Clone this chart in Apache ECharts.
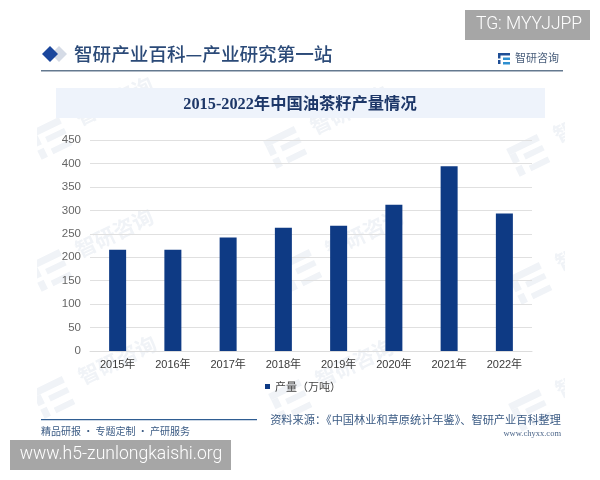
<!DOCTYPE html>
<html>
<head>
<meta charset="utf-8">
<style>html,body{margin:0;padding:0;background:#fff}#chart{width:600px;height:480px}</style>
<script src="https://cdn.jsdelivr.net/npm/echarts@6/dist/echarts.min.js"></script>
</head>
<body>
<div id="chart"></div>
<script>
const categories = ['2015年','2016年','2017年','2018年','2019年','2020年','2021年','2022年'];
const output = [216, 216, 242, 263, 267, 312, 394, 293];
const seriesName = '产量（万吨）';
const chartTitle = '2015-2022年中国油茶籽产量情况';
const headerText = '智研产业百科—产业研究第一站';
const brandText = '智研咨询';
const sloganText = '精品研报 · 专题定制 · 产研服务';
const sourceText = '资料来源：《中国林业和草原统计年鉴》、智研产业百科整理';
const siteText = 'www.chyxx.com';
const badgeTop = 'TG: MYYJJPP';
const badgeBottom = 'www.h5-zunlongkaishi.org';

const sans = '"Liberation Sans","Noto Sans CJK SC",sans-serif';
const cjk = '"Noto Sans CJK SC","Liberation Sans",sans-serif';
const serif = '"Liberation Serif","Noto Sans CJK SC",serif';
const navy = '#0e3a84';
const stampInk = '#f0f3f7';

// Faint brand stamps laid out on a loose three-by-three pattern
const stampSpots = [[50,138],[285,147],[528,155],[50,270],[300,270],[530,283],[53,397],[290,400],[530,410]];
const stamps = stampSpots.map(([x, y]) => ({
  type: 'group', x, y, rotation: 0.45, z: 0,
  children: [
    { type: 'rect', shape: { x: -17, y: -15, width: 34, height: 7 }, style: { fill: stampInk } },
    { type: 'rect', shape: { x: -17, y: -8, width: 7, height: 10 }, style: { fill: stampInk } },
    { type: 'rect', shape: { x: -4, y: -3, width: 21, height: 6 }, style: { fill: stampInk } },
    { type: 'rect', shape: { x: -17, y: 6, width: 7, height: 10 }, style: { fill: stampInk } },
    { type: 'rect', shape: { x: -4, y: 10, width: 21, height: 6 }, style: { fill: stampInk } },
    { type: 'text', x: 32, y: -16, style: { text: brandText, font: '700 21px ' + cjk, fill: stampInk } }
  ]
}));

const chart = echarts.init(document.getElementById('chart'), null, { renderer: 'canvas' });
chart.setOption({
  backgroundColor: '#fff',
  animation: false,
  grid: { left: 90, right: 68, top: 140, height: 211 },
  legend: {
    data: [seriesName], top: 381, left: 265, itemWidth: 5, itemHeight: 5, itemGap: 3,
    icon: 'rect', padding: 0,
    textStyle: { color: '#444', fontSize: 11, fontFamily: cjk }
  },
  xAxis: {
    type: 'category', data: categories,
    axisTick: { show: false },
    axisLine: { lineStyle: { color: '#dcdcdc', width: 1 } },
    axisLabel: { color: '#3a3a3a', fontSize: 11, fontFamily: sans, margin: 8, interval: 0 }
  },
  yAxis: {
    type: 'value', min: 0, max: 450, interval: 50,
    axisLine: { show: false }, axisTick: { show: false },
    axisLabel: { color: '#666', fontSize: 11.5, fontFamily: sans, margin: 9 },
    splitLine: { lineStyle: { color: '#e0e0e0', width: 1 } }
  },
  series: [{
    name: seriesName, type: 'bar', data: output, barWidth: 17,
    itemStyle: { color: navy }, z: 3
  }],
  graphic: [
    ...stamps,
    // Stamps stop at the page margins
    { type: 'rect', shape: { x: 0, y: 0, width: 37, height: 480 }, style: { fill: '#fff' }, z: 1 },
    { type: 'rect', shape: { x: 565, y: 0, width: 35, height: 480 }, style: { fill: '#fff' }, z: 1 },
    { type: 'rect', shape: { x: 0, y: 0, width: 600, height: 42 }, style: { fill: '#fff' }, z: 1 },
    { type: 'rect', shape: { x: 0, y: 437, width: 600, height: 43 }, style: { fill: '#fff' }, z: 1 },
    // Header strip
    { type: 'polygon', shape: { points: [[59,46],[67,54],[59,62],[51,54]] }, style: { fill: '#d5dbe6' }, z: 5 },
    { type: 'polygon', shape: { points: [[50,46],[58,54],[50,62],[42,54]] }, style: { fill: '#1a469c' }, z: 5 },
    { type: 'text', x: 74, y: 54, style: { text: headerText, font: '500 18.6px ' + cjk, fill: '#2b4a78', textVerticalAlign: 'middle' }, z: 5 },
    { type: 'text', x: 515, y: 58, style: { text: brandText, font: '11px ' + cjk, fill: '#4a5f7c', textVerticalAlign: 'middle' }, z: 5 },
    { type: 'rect', shape: { x: 498, y: 53, width: 12, height: 2.5 }, style: { fill: '#1f4e96' }, z: 5 },
    { type: 'rect', shape: { x: 498, y: 53, width: 2.5, height: 5.5 }, style: { fill: '#1f4e96' }, z: 5 },
    { type: 'rect', shape: { x: 503, y: 57.5, width: 7, height: 2.5 }, style: { fill: '#2f8fd0' }, z: 5 },
    { type: 'rect', shape: { x: 498, y: 60, width: 2.5, height: 4 }, style: { fill: '#1f4e96' }, z: 5 },
    { type: 'rect', shape: { x: 503, y: 62, width: 7, height: 2.5 }, style: { fill: '#2f8fd0' }, z: 5 },
    { type: 'rect', shape: { x: 41, y: 70, width: 522, height: 1.5 }, style: { fill: '#64798f' }, z: 5 },
    // Title band
    { type: 'rect', shape: { x: 56, y: 88, width: 489, height: 30 }, style: { fill: '#eef3fb' }, z: 1 },
    { type: 'text', x: 300, y: 105, style: { text: chartTitle, font: '700 16.3px ' + serif, fill: '#1d3768', textAlign: 'center', textVerticalAlign: 'middle' }, z: 5 },
    // Footer
    { type: 'rect', shape: { x: 41, y: 419, width: 216, height: 1.2 }, style: { fill: '#2f5d92' }, z: 5 },
    { type: 'text', x: 41, y: 426, style: { text: sloganText, font: '10px ' + cjk, fill: '#3b5b84' }, z: 5 },
    { type: 'text', x: 561, y: 414, style: { text: sourceText, font: '11.2px ' + cjk, fill: '#3b5b84', textAlign: 'right' }, z: 5 },
    { type: 'text', x: 561, y: 429, style: { text: siteText, font: '8.5px "Liberation Serif",serif', fill: '#4a6488', textAlign: 'right' }, z: 5 },
    // Corner badges
    { type: 'rect', shape: { x: 465, y: 10, width: 125, height: 30 }, style: { fill: '#a6a6a6' }, z: 10 },
    { type: 'text', x: 529, y: 25, style: { text: badgeTop, font: '300 17.5px Roboto,sans-serif', fill: '#fff', textAlign: 'center', textVerticalAlign: 'middle' }, z: 11 },
    { type: 'rect', shape: { x: 10, y: 440, width: 221, height: 30 }, style: { fill: '#a6a6a6' }, z: 10 },
    { type: 'text', x: 121, y: 455, style: { text: badgeBottom, font: '300 17.6px Roboto,sans-serif', fill: '#fff', textAlign: 'center', textVerticalAlign: 'middle' }, z: 11 }
  ]
});
</script>
</body>
</html>
